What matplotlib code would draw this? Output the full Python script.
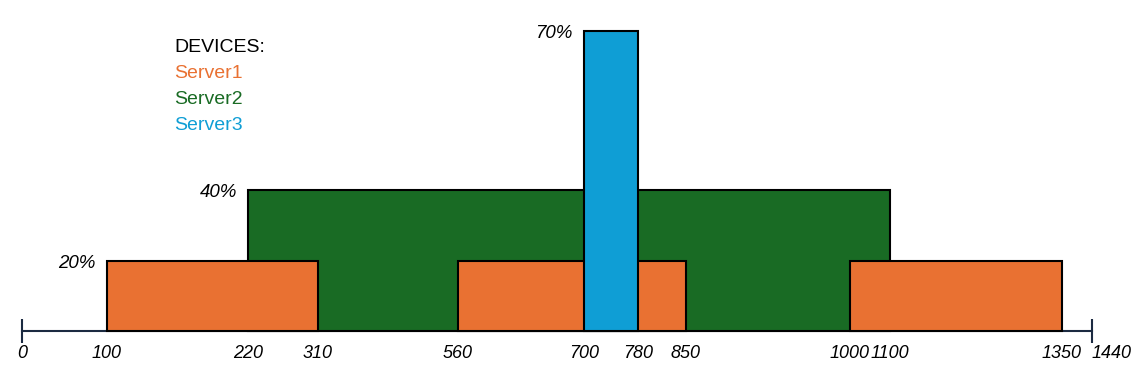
import numpy as np
import matplotlib
matplotlib.use("Agg")
from matplotlib import pyplot as plt

plt.rcParams['font.family'] = ['Liberation Sans', 'DejaVu Sans']

# data
tick_values = [0, 100, 220, 310, 560, 700, 780, 850, 1000, 1100, 1350, 1440]
server1_start = [100, 560, 1000]
server1_end = [310, 850, 1350]
server1_level = [20, 20, 20]
server2_start = [220]
server2_end = [1100]
server2_level = [40]
server3_start = [700]
server3_end = [780]
server3_level = [70]
pct_labels = ["20%", "40%", "70%"]
pct_levels = [20, 40, 70]
pct_at = [100, 220, 700]
devices = ["Server1", "Server2", "Server3"]
colors = ["#E97132", "#196B24", "#0F9ED5"]

# the drawing is not to scale: piecewise mapping of values to pixel positions
x_px = np.array([22, 107, 248, 318, 458, 584, 638, 686, 850, 890, 1062, 1092], float)
x_val = np.array(tick_values, float)
y_val = np.array([0, 20, 40, 70], float)
y_px = np.array([0, 70, 141, 300], float)

def fx(v):
    return np.interp(v, x_val, x_px)
def fx_inv(p):
    return np.interp(p, x_px, x_val)
def fy(v):
    return np.interp(v, y_val, y_px)
def fy_inv(p):
    return np.interp(p, y_px, y_val)

W, H = 1131, 382
fig = plt.figure(figsize=(W/100, H/100), dpi=100)
ax = fig.add_axes([22/W, (H-331)/H, (1092-22)/W, 300/H])
ax.set_xscale('function', functions=(fx, fx_inv))
ax.set_yscale('function', functions=(fy, fy_inv))
ax.set_xlim(0, 1440)
ax.set_ylim(0, 70)

def draw(starts, ends, levels, c, z):
    s = np.array(starts); e = np.array(ends)
    ax.bar(s, levels, width=e-s, align='edge', color=c, edgecolor='black',
           linewidth=1.5, zorder=z, clip_on=False)

draw(server2_start, server2_end, server2_level, colors[1], 2)
draw(server1_start, server1_end, server1_level, colors[0], 3)
draw(server3_start, server3_end, server3_level, colors[2], 4)

for lab, lev, at in zip(pct_labels, pct_levels, pct_at):
    ax.annotate(lab, (at, lev), xytext=(-8, -2), textcoords='offset points',
                ha='right', va='center', fontsize=13.5, style='italic')

for s in ['left', 'right', 'top']:
    ax.spines[s].set_visible(False)
ax.spines['bottom'].set_color('#1B2A41')
ax.spines['bottom'].set_linewidth(1.5)
ax.spines['bottom'].set_zorder(1)
ax.set_yticks([])
ax.xaxis.remove_overlapping_locs = False
ax.set_xticks(tick_values)
ax.set_xticklabels([str(t) for t in tick_values], fontsize=13, style='italic')
ax.tick_params(axis='x', which='major', length=0, pad=10)
ax.set_xticks([0, 1440], minor=True)
ax.tick_params(axis='x', which='minor', direction='inout', length=17,
               width=1.5, color='#1B2A41')
ax.get_xticklabels()[-1].set_horizontalalignment('left')
ax.patch.set_alpha(0)

fig.text(174/W, 1 - 48/H, "DEVICES:", fontsize=14, va='center', color='black')
for i, (d, c) in enumerate(zip(devices, colors)):
    fig.text(174/W, 1 - (74 + 25.7*i)/H, d, fontsize=14, va='center', color=c)

fig.savefig("out.png", dpi=100)
